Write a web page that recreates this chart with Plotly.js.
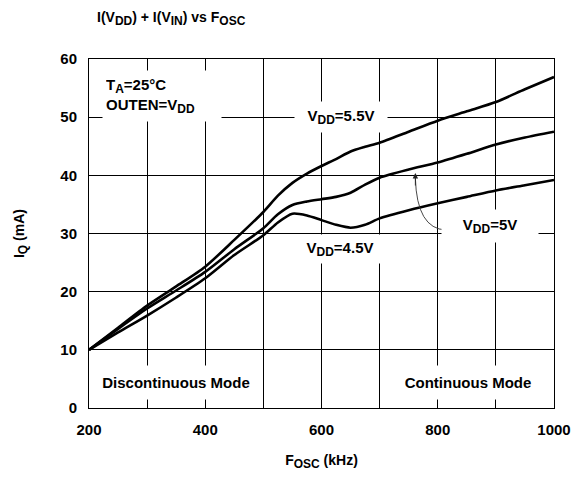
<!DOCTYPE html>
<html>
<head>
<meta charset="utf-8">
<script src="https://cdn.plot.ly/plotly-3.0.1.min.js"></script>
<style>html,body{margin:0;padding:0;background:#fff;}#chart{width:574px;height:477px;}</style>
</head>
<body>
<div id="chart"></div>
<script>
// F_OSC (kHz)
var fosc = [200, 250, 300, 350, 400, 450, 500, 525, 550, 575, 600, 625, 650, 675, 700, 750, 800, 850, 900, 950, 1000];
// I_Q (mA) for each supply voltage
var iq55 = [10, 13.8, 17.6, 20.9, 24.3, 28.9, 33.7, 36.5, 38.7, 40.3, 41.6, 42.8, 44.1, 44.9, 45.6, 47.5, 49.4, 51.0, 52.6, 54.8, 56.9];
var iq50 = [10, 13.6, 17.1, 20.2, 23.4, 27.3, 30.9, 33.3, 34.9, 35.5, 35.9, 36.3, 37.0, 38.4, 39.6, 41.0, 42.2, 43.7, 45.3, 46.5, 47.5];
var iq45 = [10, 13.0, 15.9, 19.0, 22.3, 26.3, 29.7, 31.9, 33.4, 33.1, 32.3, 31.5, 31.0, 31.5, 32.6, 34.0, 35.2, 36.3, 37.4, 38.3, 39.2];
function sub(t, px) { return "<sub><span style='font-size:" + px + "px'>" + t + "</span></sub>"; }
var seriesNames = ["V" + sub("DD", 12) + "=5.5V", "V" + sub("DD", 12) + "=5V", "V" + sub("DD", 12) + "=4.5V"];
var xTicks = [200, 400, 600, 800, 1000];
var yTicks = [0, 10, 20, 30, 40, 50, 60];

var FONT = "Liberation Sans, Arial, Helvetica, sans-serif";
function mk(y, name) {
  return {x: fosc, y: y, name: name, type: "scatter", mode: "lines",
    line: {color: "#000", width: 2.6, shape: "spline", smoothing: 0.7},
    hoverinfo: "skip", showlegend: false};
}
var traces = [mk(iq55, seriesNames[0]), mk(iq50, seriesNames[1]), mk(iq45, seriesNames[2])];

function lab(text, x, y, w, h, align, pad) {
  return {text: text, x: x, y: y, xref: "x", yref: "y", showarrow: false,
    xanchor: "center", yanchor: "middle", width: w, height: h, align: align || "center",
    bgcolor: "#fff", borderpad: pad || 0,
    font: {family: FONT, size: 15, color: "#000", weight: "bold"}};
}
var annotations = [
  lab("T" + sub("A", 12) + "=25°C<br>OUTEN=V" + sub("DD", 12), 326, 53.7, 112, 44, "left", 3),
  lab(seriesNames[0], 633, 50, 92, 30),
  lab(seriesNames[2], 631, 27.4, 92, 28),
  lab(seriesNames[1], 890, 31.3, 96, 32),
  lab("Discontinuous Mode", 349, 4.3, 166, 33),
  lab("Continuous Mode", 852, 4.3, 146, 33),
  {x: 761.5, y: 40.4, xref: "x", yref: "y", ax: 0, ay: 14, text: "", showarrow: true,
   arrowhead: 2, arrowsize: 1.2, arrowwidth: 0.9, arrowcolor: "#222"}
];

var layout = {
  width: 574, height: 477,
  margin: {l: 89, r: 20, t: 59, b: 69},
  paper_bgcolor: "#fff", plot_bgcolor: "#fff",
  font: {family: FONT, color: "#000"},
  title: {text: "I(V" + sub("DD", 12) + ") + I(V" + sub("IN", 12) + ") vs F" + sub("OSC", 12),
    x: 97/574, xanchor: "left", xref: "container", y: 1 - 17/477, yanchor: "middle", yref: "container",
    font: {family: FONT, size: 14, weight: "bold", color: "#000"}},
  xaxis: {range: [200, 1000], tickvals: xTicks, showgrid: true, gridcolor: "#000", gridwidth: 1,
    minor: {dtick: 100, showgrid: true, gridcolor: "#000", gridwidth: 1},
    showline: true, mirror: true, linecolor: "#000", linewidth: 1, zeroline: false,
    ticks: "", ticklabelstandoff: 8,
    tickfont: {family: FONT, size: 15, weight: "bold", color: "#000"},
    title: {text: "F" + sub("OSC", 12) + " (kHz)", standoff: 18,
      font: {family: FONT, size: 14, weight: "bold", color: "#000"}}},
  yaxis: {range: [0, 60], tickvals: yTicks, showgrid: true, gridcolor: "#000", gridwidth: 1,
    showline: true, mirror: true, linecolor: "#000", linewidth: 1, zeroline: false,
    ticks: "", ticklabelstandoff: 8,
    tickfont: {family: FONT, size: 15, weight: "bold", color: "#000"},
    title: {text: "I" + sub("Q", 12) + " (mA)", standoff: 32,
      font: {family: FONT, size: 14, weight: "bold", color: "#000"}}},
  shapes: [
    {type: "path", xref: "x", yref: "y", path: "M 814,30.6 Q 764,30.8 761.5,39.5",
     line: {color: "#333", width: 0.9}, layer: "above"}
  ],
  annotations: annotations
};
Plotly.newPlot("chart", traces, layout, {displayModeBar: false, staticPlot: true});
</script>
</body>
</html>
